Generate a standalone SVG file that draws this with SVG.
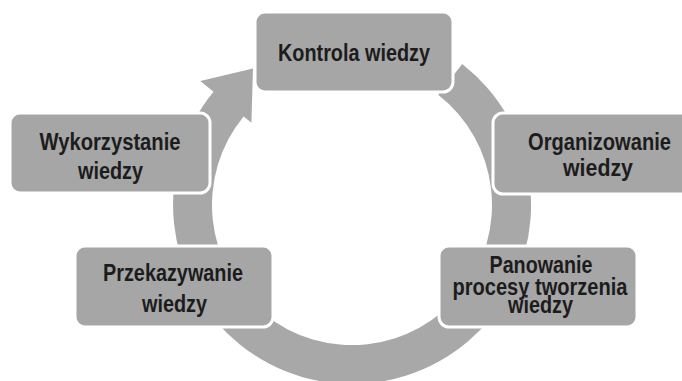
<svg xmlns="http://www.w3.org/2000/svg" width="682" height="381" viewBox="0 0 682 381">
<style>
.box{fill:#a6a6a6;stroke:#ffffff;stroke-width:3}
.ring{fill:#a8a8a8}
.t{font-family:"Liberation Sans",Arial,sans-serif;font-weight:bold;font-size:23px;fill:#1c1c1c;text-anchor:middle}
</style>
<rect width="682" height="381" fill="#ffffff"/>
<g id="connectors">
<path class="ring" d="M 462.2 63.9 A 179 179 0 1 1 213.5 91.7 L 200.3 80.9 L 253 68.5 L 251.4 122.7 L 243.6 116.4 A 140 140 0 1 0 438.2 94.7 Z"/>
</g>
<g id="kontrola">
<rect class="box" x="255" y="12" width="198" height="80" rx="10"/>
<text class="t" x="354" y="61" textLength="152" lengthAdjust="spacingAndGlyphs">Kontrola wiedzy</text>
</g>
<g id="organizowanie">
<rect class="box" x="493" y="113" width="200" height="81" rx="10"/>
<text class="t" x="599.5" y="150" textLength="143" lengthAdjust="spacingAndGlyphs">Organizowanie</text>
<text class="t" x="598" y="176" textLength="70" lengthAdjust="spacingAndGlyphs">wiedzy</text>
</g>
<g id="panowanie">
<rect class="box" x="439" y="246" width="198" height="81" rx="10"/>
<text class="t" x="541" y="273" textLength="103" lengthAdjust="spacingAndGlyphs">Panowanie</text>
<text class="t" x="540" y="295" textLength="175" lengthAdjust="spacingAndGlyphs">procesy tworzenia</text>
<text class="t" x="540.5" y="313" textLength="65" lengthAdjust="spacingAndGlyphs">wiedzy</text>
</g>
<g id="przekazywanie">
<rect class="box" x="75" y="246" width="198" height="81" rx="10"/>
<text class="t" x="173" y="281" textLength="140" lengthAdjust="spacingAndGlyphs">Przekazywanie</text>
<text class="t" x="174.5" y="312" textLength="65" lengthAdjust="spacingAndGlyphs">wiedzy</text>
</g>
<g id="wykorzystanie">
<rect class="box" x="10" y="113" width="200" height="80" rx="10"/>
<text class="t" x="110" y="150" textLength="141" lengthAdjust="spacingAndGlyphs">Wykorzystanie</text>
<text class="t" x="110.5" y="179" textLength="65" lengthAdjust="spacingAndGlyphs">wiedzy</text>
</g>
</svg>
